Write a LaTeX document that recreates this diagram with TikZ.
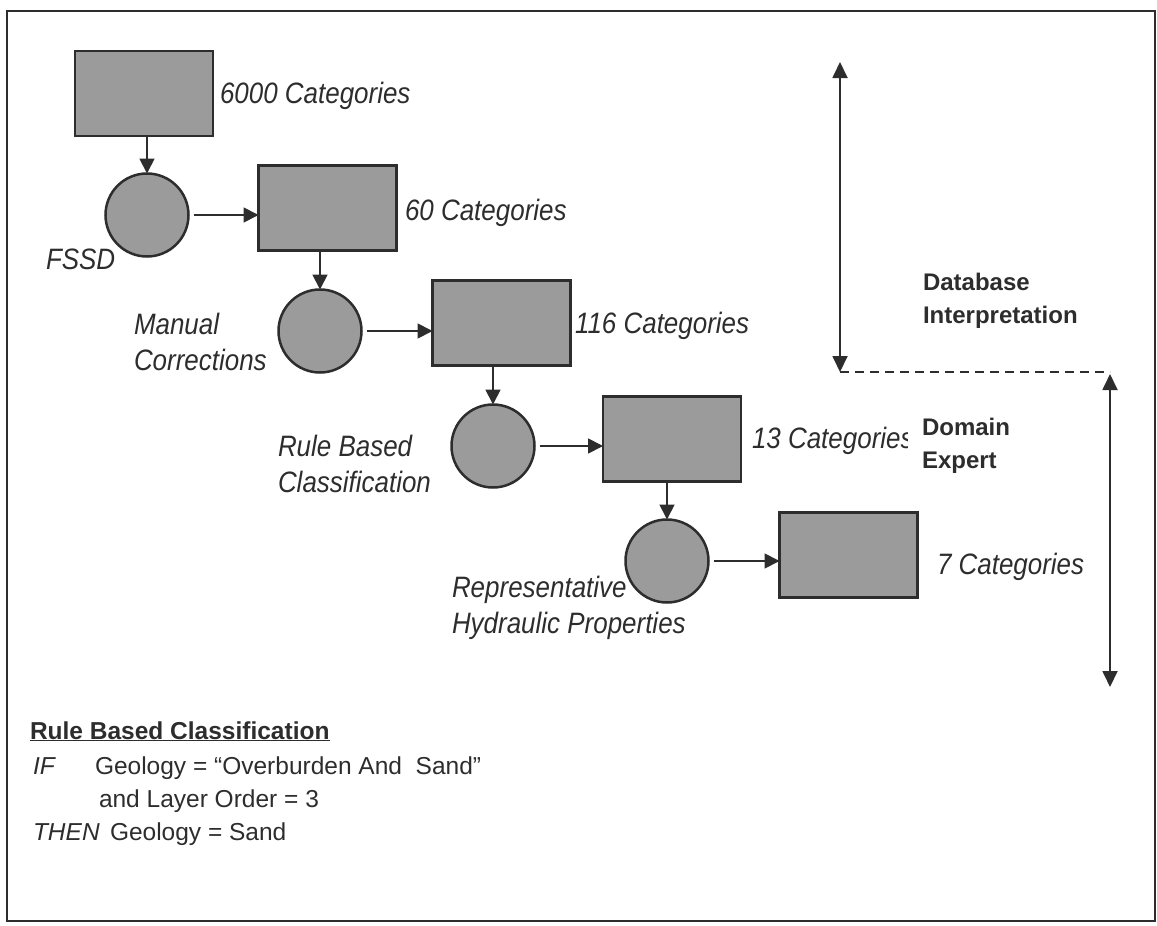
\documentclass[tikz,border=0pt]{standalone}
\usepackage{fontspec}
\setmainfont{Liberation Sans}
\newfontfamily\condsans[FakeStretch=0.88]{Liberation Sans}
\usetikzlibrary{arrows.meta}
\definecolor{ink}{RGB}{45,45,45}
\definecolor{boxfill}{RGB}{155,155,155}
\begin{document}
\begin{tikzpicture}[x=1pt,y=-1pt,
  every node/.style={inner sep=0pt, outer sep=0pt, text=ink},
  catbox/.style={draw=ink, fill=boxfill, line width=2.5pt, minimum width=138pt, minimum height=85pt},
  proc/.style={draw=ink, fill=boxfill, line width=2.5pt, circle, minimum size=83pt},
  lab/.style={font=\fontsize{29.5}{36}\selectfont\condsans\itshape, align=left},
  sidelab/.style={font=\fontsize{24}{33}\selectfont\bfseries, align=left},
  ruletext/.style={font=\fontsize{24.5}{30}\selectfont},
  flowarrow/.style={draw=ink, line width=1.8pt, -{Triangle[length=15pt,width=15pt]}},
  spanarrow/.style={draw=ink, line width=1.8pt, {Triangle[length=16pt,width=15pt]}-{Triangle[length=16pt,width=15pt]}},
]
\useasboundingbox (0,0) rectangle (1157,926);
\draw[ink, line width=2pt] (7,11) rectangle (1155,921);

% process chain
\node[catbox] (box1) at (144,93.5) {};
\node[proc] (circ1) at (147,215) {};
\node[catbox] (box2) at (327.5,208) {};
\node[proc] (circ2) at (320,331) {};
\node[catbox] (box3) at (501.5,323) {};
\node[proc] (circ3) at (493,446) {};
\node[catbox] (box4) at (672,439) {};
\node[proc] (circ4) at (667,561) {};
\node[catbox] (box5) at (848.5,555) {};

\draw[flowarrow] (box1.south -| circ1.north) -- (circ1.north);
\draw[flowarrow, shorten <=5pt] (circ1.east) -- (circ1.east -| box2.west);
\draw[flowarrow] (box2.south -| circ2.north) -- (circ2.north);
\draw[flowarrow, shorten <=5pt] (circ2.east) -- (circ2.east -| box3.west);
\draw[flowarrow] (box3.south -| circ3.north) -- (circ3.north);
\draw[flowarrow, shorten <=5pt] (circ3.east) -- (circ3.east -| box4.west);
\draw[flowarrow] (box4.south -| circ4.north) -- (circ4.north);
\draw[flowarrow, shorten <=5pt] (circ4.east) -- (circ4.east -| box5.west);

% labels
\node[lab, anchor=base west] (l6000) at (220,103) {6000 Categories};
\node[lab, anchor=base west] (l60) at (405,220) {60 Categories};
\node[lab, anchor=base west] (l116) at (575,333) {116 Categories};
\node[lab, anchor=base west] (l13) at (752,448) {13 Categories};
\node[lab, anchor=base west] (l7) at (937,574) {7 Categories};
\node[lab, anchor=base west] (lfssd) at (46,269) {FSSD};
\node[lab, anchor=west] (lman) at (134,342) {Manual\\Corrections};
\node[lab, anchor=west] (lrule) at (278,464) {Rule Based\\Classification};
\node[lab, anchor=west] (lrep) at (452,608) {Representative\\Hydraulic Properties};

% side spans
\coordinate (dbtop) at (840,62);
\coordinate (dbbot) at (840,372);
\coordinate (detop) at (1110,374);
\coordinate (debot) at (1110,687);
\draw[spanarrow] (dbtop) -- (dbbot);
\draw[spanarrow] (detop) -- (debot);
\draw[ink, line width=1.5pt, dash pattern=on 9pt off 6pt] (dbbot) -- (dbbot -| detop);
\node[sidelab, anchor=west] (ldb) at (923,301) {Database\\Interpretation};
\node[sidelab, anchor=west, fill=white, inner xsep=14pt] (ldom) at (908,446) {Domain\\Expert};

% rule text
\node[font=\fontsize{24.5}{30}\selectfont\bfseries, anchor=base west] (rtitle) at (30,739) {\underline{Rule Based Classification}};
\node[ruletext, anchor=base west] (rif) at (33,774) {\itshape IF};
\node[ruletext, anchor=base west] (rcond1) at (95,774) {Geology = “Overburden And\ \ Sand”};
\node[ruletext, anchor=base west] (rcond2) at (99,807) {and Layer Order = 3};
\node[ruletext, anchor=base west] (rthen) at (33,840) {\itshape THEN};
\node[ruletext, anchor=base west] (rres) at (110,840) {Geology = Sand};
\end{tikzpicture}
\end{document}
